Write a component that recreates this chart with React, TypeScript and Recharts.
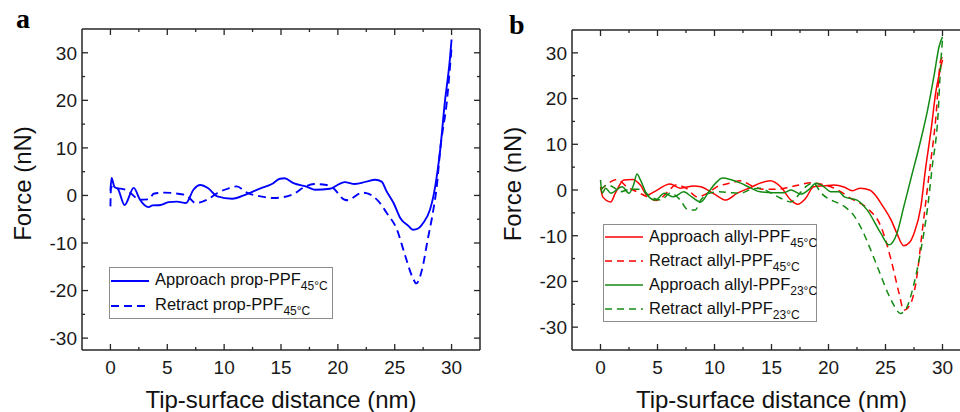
import React from 'react'
import { LineChart, Line, XAxis, YAxis, Legend } from 'recharts'

const FONT = '"Liberation Sans", Arial, sans-serif'
const FRAME = '#262626'

// axis ticks
const xMajor = [0, 5, 10, 15, 20, 25, 30]
const xMinor = [2.5, 7.5, 12.5, 17.5, 22.5, 27.5]
const yMajor = [-30, -20, -10, 0, 10, 20, 30]
const yMinor = [-25, -15, -5, 5, 15, 25]
const xDomain = [-2.5, 32.5]
const yDomainA = [-32.5, 35]
const yDomainB = [-35, 35]

// panel a: prop-PPF 45°C
const aApproachX = [0, 0.1, 0.35, 0.65, 1.25, 2.05, 2.6, 3.35, 3.7, 4.4, 5.1, 5.85, 6.65, 7.3, 7.9, 8.6, 9.4, 10.7, 12.0, 13.2, 14.2, 14.9, 15.3, 16.1, 17.3, 18.0, 19.3, 20.2, 20.6, 21.5, 22.5, 23.3, 23.85, 24.3, 24.9, 25.5, 26.2, 26.6, 27.1, 27.5, 28.1, 28.4, 28.7, 29.0, 29.4, 29.85, 30.0]
const aApproachY = [1.0, 3.7, 1.8, 1.4, -2.0, 1.6, -0.9, -2.45, -2.1, -2.0, -1.4, -1.3, -1.6, 1.2, 2.2, 1.5, -0.2, -0.7, 0.3, 1.5, 2.4, 3.5, 3.6, 2.6, 1.8, 1.2, 1.4, 2.5, 2.8, 2.4, 2.9, 3.3, 2.9, 0.8, -1.6, -4.8, -6.4, -7.2, -6.9, -5.8, -3.0, -0.2, 4.0, 9.6, 19.4, 28.6, 32.8]
const aRetractX = [0, 0.05, 0.7, 1.3, 1.75, 2.6, 3.4, 3.8, 4.7, 6.1, 6.7, 7.5, 8.5, 9.4, 10.4, 11.1, 12.0, 13.2, 14.3, 15.2, 16.1, 17.0, 17.9, 19.0, 19.6, 20.6, 20.9, 21.5, 22.1, 22.5, 23.6, 24.3, 25.2, 25.9, 26.6, 26.9, 27.4, 27.9, 28.4, 28.7, 29.0, 29.6, 30.0]
const aRetractY = [-2.3, 1.8, 1.5, 1.2, 0.5, -0.9, -0.8, 0.35, 0.6, 0.3, 0, -1.6, -0.9, 0.5, 1.5, 1.9, 0.6, -0.2, -0.55, -0.35, 0.3, 1.7, 2.4, 2.2, 1.5, -0.9, -1.0, -0.2, 0.6, 0.5, -1.3, -3.7, -7.2, -12.5, -17.4, -18.5, -15.6, -9.3, -3.0, 1.9, 9.6, 20.1, 31.0]

// panel b: allyl-PPF 45°C and 23°C
const bApp45X = [0, 0.2, 0.9, 1.3, 2.05, 2.8, 3.5, 4.1, 4.7, 6.1, 7.0, 8.2, 8.8, 10.0, 11.0, 12.0, 13.2, 14.0, 14.9, 15.8, 16.7, 17.3, 18.0, 18.7, 19.6, 20.5, 21.4, 22.1, 22.8, 23.6, 24.1, 24.7, 25.5, 26.0, 26.6, 27.1, 27.5, 28.1, 28.5, 29.0, 29.4, 29.8, 30.0]
const bApp45Y = [0.7, -1.5, -2.6, -0.7, 2.2, 2.3, 1.1, -1.1, -0.4, 1.3, 0.4, 0.9, 0.7, -0.9, -2.2, -0.7, 0.6, 1.5, 2.0, 0.7, -2.2, -3.1, -1.8, 0.7, 0.9, 1.1, 0.6, -0.15, 0.4, 0, -1.1, -3.3, -6.6, -9.5, -12.2, -11.5, -9.5, -3.7, 4.4, 13.2, 21.2, 26.3, 28.5]
const bRet45X = [0, 0.7, 1.5, 2.3, 3.2, 4.1, 4.9, 5.9, 6.6, 7.5, 8.5, 9.4, 10.2, 11.4, 12.3, 13.3, 14.3, 15.5, 16.7, 17.6, 18.4, 19.3, 20.2, 21.1, 21.9, 22.8, 23.5, 24.6, 25.5, 26.2, 26.6, 27.2, 27.7, 28.2, 28.8, 29.4, 29.85, 30.0]
const bRet45Y = [0, 1.5, 2.3, 0.7, -0.4, -1.5, -2.3, -0.4, 1.1, 0.4, -1.5, -0.7, 0.7, 1.5, 2.0, 0.9, 0.15, 0.15, 0.7, 1.2, 1.6, 1.3, 0.7, -0.4, -1.8, -2.9, -4.2, -8.0, -15.4, -22.7, -26.3, -24.9, -19.8, -9.5, 2.9, 15.4, 28.5, 29.0]
const bApp23X = [0, 0.15, 0.45, 0.9, 1.9, 2.5, 2.9, 3.2, 3.5, 4.1, 4.8, 5.6, 6.4, 7.3, 8.0, 8.8, 9.5, 10.1, 10.7, 11.4, 12.3, 13.2, 14.0, 15.2, 16.1, 16.7, 17.6, 18.3, 18.9, 19.6, 20.2, 20.9, 21.4, 22.5, 23.4, 24.6, 25.3, 26.0, 26.6, 27.2, 28.1, 28.7, 29.3, 29.7, 30.0]
const bApp23Y = [2.2, -0.7, 0.4, -0.7, 0.7, -0.7, 1.1, 3.5, 2.2, -1.1, -2.2, -0.7, -1.5, -0.4, -1.5, -2.6, -0.4, 1.5, 2.6, 2.3, 1.5, 0.4, -0.4, -0.6, -0.6, 0, -0.9, 0.15, 1.5, 0.7, -0.4, -0.4, -1.5, -2.2, -4.4, -9.5, -12.0, -9.5, -3.7, 2.2, 11.0, 17.6, 25.6, 31.4, 33.5]
const bRet23X = [0, 0.6, 1.2, 1.75, 2.6, 3.5, 4.4, 5.3, 6.1, 7.0, 7.6, 8.3, 8.8, 9.5, 10.4, 11.4, 12.3, 13.2, 14.0, 14.9, 15.8, 16.7, 17.6, 18.1, 18.7, 19.3, 19.9, 20.8, 21.5, 22.2, 23.0, 23.6, 24.4, 25.2, 25.8, 26.3, 26.8, 27.5, 28.1, 28.7, 29.1, 29.6, 29.85, 30.0]
const bRet23Y = [0, 1.1, 0.5, -0.4, 0.15, 0.15, -1.5, -2.2, -0.7, -2.2, -4.2, -4.4, -2.2, -0.7, -0.4, -0.6, -0.7, 0.15, 0.4, -0.6, -1.8, -2.6, -0.4, 0.9, 1.5, -0.5, -1.8, -2.8, -3.8, -5.5, -9.0, -12.5, -17.5, -22.5, -25.5, -27.0, -26.0, -20.5, -13.2, -3.7, 5.1, 16.1, 27.8, 33.0]

// legend labels (main text + subscript)
const aLegendMain = ['Approach prop-PPF', 'Retract prop-PPF']
const aLegendSub = ['45°C', '45°C']
const bLegendMain = ['Approach allyl-PPF', 'Retract allyl-PPF', 'Approach allyl-PPF', 'Retract allyl-PPF']
const bLegendSub = ['45°C', '45°C', '23°C', '23°C']

const pts = (xs: number[], ys: number[]) => xs.map((x, i) => ({ x, y: ys[i] }))

const BLUE = '#0000ff'
const RED = '#ff0000'
const GREEN = '#138a13'

interface Series {
  key: string
  data: { x: number; y: number }[]
  color: string
  dash?: string
  width: number
  main: string
  sub: string
}

const seriesA: Series[] = [
  { key: 'aApp', data: pts(aApproachX, aApproachY), color: BLUE, width: 1.9, main: aLegendMain[0], sub: aLegendSub[0] },
  { key: 'aRet', data: pts(aRetractX, aRetractY), color: BLUE, dash: '8 5', width: 1.9, main: aLegendMain[1], sub: aLegendSub[1] }
]

const seriesB: Series[] = [
  { key: 'bApp45', data: pts(bApp45X, bApp45Y), color: RED, width: 1.5, main: bLegendMain[0], sub: bLegendSub[0] },
  { key: 'bRet45', data: pts(bRet45X, bRet45Y), color: RED, dash: '7 5', width: 1.5, main: bLegendMain[1], sub: bLegendSub[1] },
  { key: 'bApp23', data: pts(bApp23X, bApp23Y), color: GREEN, width: 1.5, main: bLegendMain[2], sub: bLegendSub[2] },
  { key: 'bRet23', data: pts(bRet23X, bRet23Y), color: GREEN, dash: '7 5', width: 1.5, main: bLegendMain[3], sub: bLegendSub[3] }
]

const xTicks = [...xMajor, ...xMinor].sort((a, b) => a - b)
const yTicks = [...yMajor, ...yMinor].sort((a, b) => a - b)

// ticks point into the plot, Origin style
const xTick = (side: 'bottom' | 'top') => (props: any) => {
  const { x, y, payload } = props
  const major = xMajor.includes(payload.value)
  const len = major ? 6 : 3
  const dir = side === 'bottom' ? -1 : 1
  return (
    <g>
      <line x1={x} x2={x} y1={y} y2={y + dir * len} stroke={FRAME} strokeWidth={1.3} />
      {side === 'bottom' && major && (
        <text x={x} y={y + 24} textAnchor='middle' fontFamily={FONT} fontSize={19} fill='#1a1a1a'>
          {payload.value}
        </text>
      )}
    </g>
  )
}

const yTick = (side: 'left' | 'right') => (props: any) => {
  const { x, y, payload } = props
  const major = yMajor.includes(payload.value)
  const len = major ? 6 : 3
  const dir = side === 'left' ? 1 : -1
  return (
    <g>
      <line x1={x} x2={x + dir * len} y1={y} y2={y} stroke={FRAME} strokeWidth={1.3} />
      {side === 'left' && major && (
        <text x={x - 5} y={y} dy='0.36em' textAnchor='end' fontFamily={FONT} fontSize={19} fill='#1a1a1a'>
          {payload.value}
        </text>
      )}
    </g>
  )
}

const XTitle = ({ viewBox }: any) => (
  <text x={viewBox.x + viewBox.width / 2} y={viewBox.y + 58} textAnchor='middle' fontFamily={FONT} fontSize={24} fill='#111'>
    Tip-surface distance (nm)
  </text>
)

const YTitle = ({ viewBox }: any) => {
  const tx = viewBox.x + viewBox.width - 51
  const ty = viewBox.y + viewBox.height / 2 - 6
  return (
    <text x={tx} y={ty} transform={`rotate(-90, ${tx}, ${ty})`} textAnchor='middle' fontFamily={FONT} fontSize={24} fill='#111'>
      Force (nN)
    </text>
  )
}

const LegendBox: React.FC<{ items: Series[]; width: number; rowH: number }> = ({ items, width, rowH }) => (
  <div
    style={{
      width,
      border: '1px solid #8c8c8c',
      background: '#fff',
      fontFamily: FONT,
      fontSize: 16.5,
      color: '#111',
      boxSizing: 'border-box'
    }}
  >
    {items.map((s) => (
      <div key={s.key} style={{ display: 'flex', alignItems: 'center', height: rowH, lineHeight: `${rowH}px` }}>
        <svg width={42} height={10} style={{ marginLeft: 1, flex: 'none' }}>
          <line x1={0} x2={38} y1={5} y2={5} stroke={s.color} strokeWidth={s.width} strokeDasharray={s.dash} />
        </svg>
        <span style={{ marginLeft: 2, whiteSpace: 'nowrap' }}>
          {s.main}
          <span style={{ fontSize: 12, position: 'relative', top: 5 }}>{s.sub}</span>
        </span>
      </div>
    ))}
  </div>
)

// axes need a non-zero size to be drawn, so they get 1px and the margins give it back
const Panel: React.FC<{
  left: number
  width: number
  top: number
  yDomain: number[]
  series: Series[]
  legendLeft: number
  legendTop: number
  legendWidth: number
  rowH: number
}> = ({ left, width, top, yDomain, series, legendLeft, legendTop, legendWidth, rowH }) => (
  <div style={{ position: 'absolute', left, top: 0 }}>
    <LineChart width={width} height={412} margin={{ top: top - 1, right: 9, bottom: 61, left: 81 }}>
      <XAxis
        type='number'
        dataKey='x'
        domain={xDomain}
        ticks={xTicks}
        interval={0}
        allowDataOverflow
        height={1}
        tickSize={0}
        tickMargin={0}
        tickLine={false}
        axisLine={{ stroke: FRAME, strokeWidth: 1.5 }}
        tick={xTick('bottom')}
        label={<XTitle />}
      />
      <XAxis
        xAxisId='top'
        orientation='top'
        type='number'
        dataKey='x'
        domain={xDomain}
        ticks={xTicks}
        interval={0}
        allowDataOverflow
        height={1}
        tickSize={0}
        tickMargin={0}
        tickLine={false}
        axisLine={{ stroke: FRAME, strokeWidth: 1.5 }}
        tick={xTick('top')}
      />
      <YAxis
        type='number'
        domain={yDomain}
        ticks={yTicks}
        interval={0}
        allowDataOverflow
        width={1}
        tickSize={0}
        tickMargin={0}
        tickLine={false}
        axisLine={{ stroke: FRAME, strokeWidth: 1.5 }}
        tick={yTick('left')}
        label={<YTitle />}
      />
      <YAxis
        yAxisId='right'
        orientation='right'
        type='number'
        domain={yDomain}
        ticks={yTicks}
        interval={0}
        allowDataOverflow
        width={1}
        tickSize={0}
        tickMargin={0}
        tickLine={false}
        axisLine={{ stroke: FRAME, strokeWidth: 1.5 }}
        tick={yTick('right')}
      />
      {series.map((s) => (
        <Line
          key={s.key}
          data={s.data}
          dataKey='y'
          type='monotone'
          stroke={s.color}
          strokeWidth={s.width}
          strokeDasharray={s.dash}
          dot={false}
          isAnimationActive={false}
        />
      ))}
      <Legend
        layout='vertical'
        align='center'
        verticalAlign='middle'
        wrapperStyle={{ left: legendLeft, top: legendTop, width: 'auto' }}
        content={() => <LegendBox items={series} width={legendWidth} rowH={rowH} />}
      />
    </LineChart>
  </div>
)

export default function App() {
  return (
    <div style={{ position: 'absolute', left: 0, top: 0, width: 960, height: 412, overflow: 'hidden', background: '#fff' }}>
      <Panel left={0} width={490} top={29} yDomain={yDomainA} series={seriesA} legendLeft={109} legendTop={267} legendWidth={224} rowH={25} />
      <Panel left={490} width={491} top={30} yDomain={yDomainB} series={seriesB} legendLeft={113} legendTop={224} legendWidth={214} rowH={24} />
      <svg width={960} height={412} style={{ position: 'absolute', left: 0, top: 0, pointerEvents: 'none' }}>
        <text x={16} y={28} fontFamily='"Liberation Serif", "Times New Roman", serif' fontWeight='bold' fontSize={28} fill='#000'>
          a
        </text>
        <text x={509} y={34} fontFamily='"Liberation Serif", "Times New Roman", serif' fontWeight='bold' fontSize={28} fill='#000'>
          b
        </text>
      </svg>
    </div>
  )
}
